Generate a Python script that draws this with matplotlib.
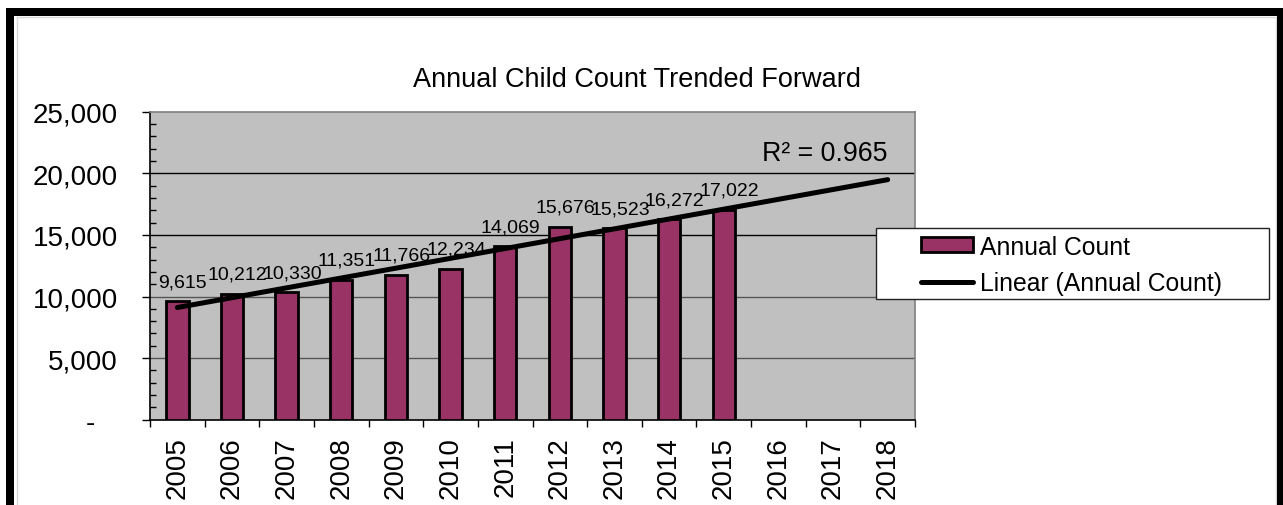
import numpy as np
import matplotlib
matplotlib.use("Agg")
import matplotlib.pyplot as plt
from matplotlib.patches import Rectangle
from matplotlib.ticker import FuncFormatter, MultipleLocator, FixedLocator

plt.rcParams["font.family"] = ["Liberation Sans", "DejaVu Sans"]

years = ["2005", "2006", "2007", "2008", "2009", "2010", "2011",
         "2012", "2013", "2014", "2015", "2016", "2017", "2018"]
annual_count = [9615, 10212, 10330, 11351, 11766, 12234, 14069,
                15676, 15523, 16272, 17022]

BAR_COLOR = "#993366"
PLOT_BG = "#C0C0C0"
W, H = 1283, 506


def px_x(x):
    return x / W


def px_y(y):
    # pixel measured from the top
    return 1 - y / H


def y_fmt(v, pos):
    if v == 0:
        return "-   "
    return "{:,.0f}".format(v)


fig = plt.figure(figsize=(W / 100, H / 100), dpi=100)
fig.patch.set_facecolor("white")

ax = fig.add_axes([px_x(150), px_y(420.7), px_x(915 - 150), (420.7 - 112.7) / H])
ax.set_facecolor(PLOT_BG)

x_all = np.arange(len(years))
x_data = np.arange(len(annual_count))

# bars
bars = ax.bar(x_data, annual_count, width=0.41, color=BAR_COLOR, edgecolor="black",
              linewidth=2.0, zorder=3, label="Annual Count")

# linear trend (same as excel trendline), forwarded to 2018
slope, intercept = np.polyfit(x_data, annual_count, 1)
fit = slope * x_data + intercept
ss_res = np.sum((np.array(annual_count) - fit) ** 2)
ss_tot = np.sum((np.array(annual_count) - np.mean(annual_count)) ** 2)
r2 = 1 - ss_res / ss_tot
trend = slope * x_all + intercept
line, = ax.plot(x_all, trend, color="black", linewidth=3.6, solid_capstyle="round",
                zorder=4, label="Linear (Annual Count)")

ax.annotate("R² = {:.3f}".format(r2), xy=(x_all[-1], trend[-1]),
            xytext=(0, 14), textcoords="offset points", ha="right",
            va="baseline", fontsize=19.3, zorder=6)

# data labels
for xi, v in zip(x_data, annual_count):
    ax.annotate("{:,}".format(v), xy=(xi, v), xytext=(4, 8),
                textcoords="offset points", ha="center", va="bottom",
                fontsize=14, zorder=5)

ax.set_xlim(-0.5, len(years) - 0.5)
ax.set_ylim(0, 25000)

# y axis
ax.yaxis.set_major_locator(MultipleLocator(5000))
ax.yaxis.set_minor_locator(MultipleLocator(1000))
ax.yaxis.set_major_formatter(FuncFormatter(y_fmt))
ax.tick_params(axis="y", which="major", direction="out", length=6, width=1,
               labelsize=20, pad=17)
ax.tick_params(axis="y", which="minor", direction="in", length=4.3, width=1)

# x axis: labels at centers, tick marks between categories
ax.set_xticks(x_all)
ax.set_xticklabels(years, rotation=90)
ax.xaxis.set_minor_locator(FixedLocator(np.arange(-0.5, len(years), 1)))
ax.tick_params(axis="x", which="major", length=0, labelsize=20, pad=12)
ax.tick_params(axis="x", which="minor", direction="out", length=5, width=1)

# gridlines
ax.yaxis.grid(True, which="major", linewidth=1, zorder=1)
ax.set_axisbelow(True)
grid_colors = {5000: "#555555", 10000: "#555555", 15000: "black", 20000: "black"}
for gl, tv in zip(ax.get_ygridlines(), ax.get_yticks()):
    gl.set_color(grid_colors.get(int(tv), "none"))

ax.spines["left"].set_color("black")
ax.spines["bottom"].set_color("black")
ax.spines["top"].set_color("#808080")
ax.spines["right"].set_color("#808080")
for s in ax.spines.values():
    s.set_linewidth(1.2)

# title
fig.text(px_x(637), px_y(86.7), "Annual Child Count Trended Forward",
         ha="center", va="baseline", fontsize=19.5)

# legend box + legend
fig.patches.append(Rectangle((px_x(875.7), px_y(300)), px_x(1269.3 - 875.7),
                             (300 - 229.3) / H, transform=fig.transFigure,
                             facecolor="white", edgecolor="#222222",
                             linewidth=1, zorder=3))
leg = fig.legend([bars, line], ["Annual Count", "Linear (Annual Count)"],
                 loc="center left",
                 bbox_to_anchor=(px_x(921), px_y(265.8)), frameon=False,
                 fontsize=17.8, borderpad=0, borderaxespad=0,
                 handlelength=2.1, handleheight=0.55, handletextpad=0.3,
                 labelspacing=0.5)
leg.set_zorder(4)

# outer black frame (top, left, right) and light inner chart border
black = dict(transform=fig.transFigure, facecolor="black", edgecolor="none", zorder=10)
fig.patches.append(Rectangle((px_x(6), 0), px_x(8), px_y(9), **black))
fig.patches.append(Rectangle((px_x(6), px_y(17)), px_x(W - 6), 8 / H, **black))
fig.patches.append(Rectangle((px_x(1277), 0), px_x(6), px_y(9), **black))
fig.patches.append(Rectangle((px_x(16.5), -0.01), px_x(1275.7 - 16.5), px_y(17.5) + 0.01,
                             transform=fig.transFigure, facecolor="none",
                             edgecolor="#d9d9d9", linewidth=1, zorder=9))

fig.savefig("out.png", dpi=100)
